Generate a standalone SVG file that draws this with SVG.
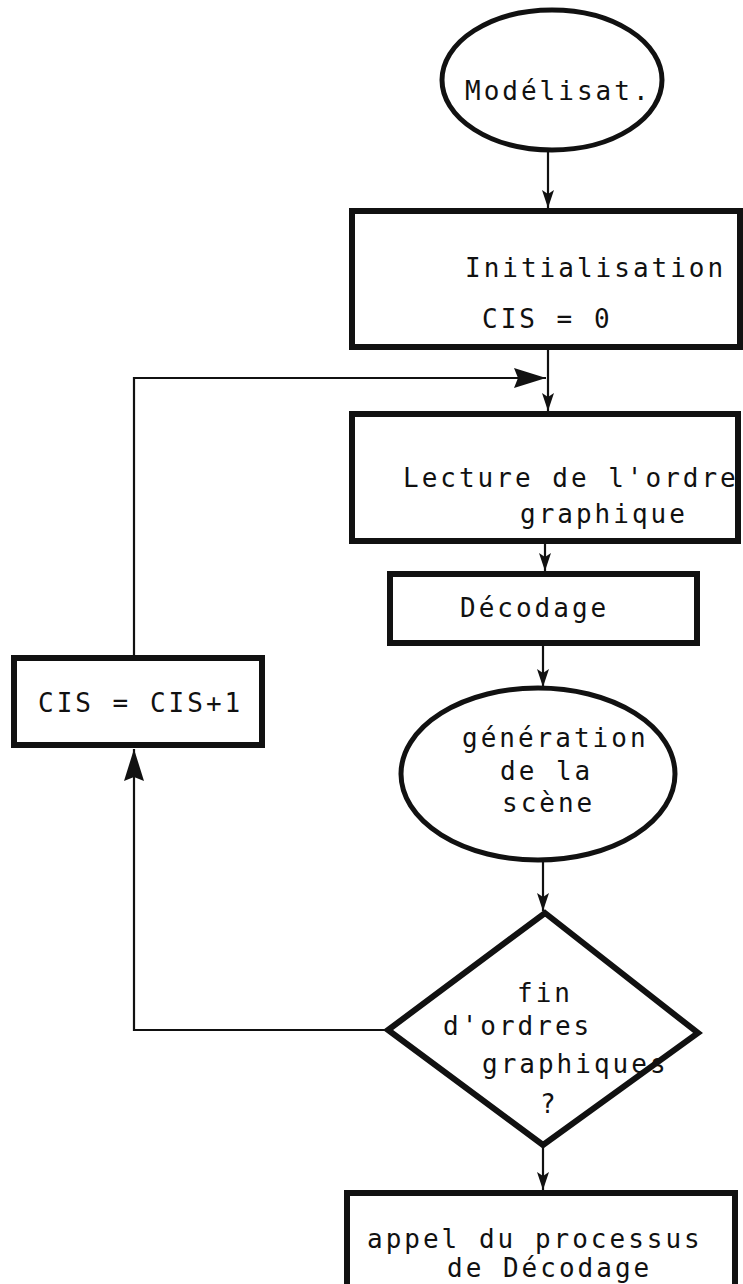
<svg xmlns="http://www.w3.org/2000/svg" width="743" height="1284" viewBox="0 0 743 1284">
<style>
.box{fill:#fff;stroke:#111;stroke-width:6;stroke-linejoin:miter}
.oval{fill:#fff;stroke:#111;stroke-width:5}
.con{fill:none;stroke:#111;stroke-width:2.2}
.t{font-family:"DejaVu Sans Mono","Liberation Mono",monospace;font-size:26px;letter-spacing:3px;fill:#111}
</style>
<defs>
<marker id="a" markerUnits="userSpaceOnUse" markerWidth="20" markerHeight="14" refX="18" refY="6" orient="auto">
<path d="M0,0 L18,6 L0,12 L4,6 Z" fill="#111"/>
</marker>
<marker id="big" markerUnits="userSpaceOnUse" markerWidth="34" markerHeight="22" refX="32" refY="10" orient="auto">
<path d="M0,0 L32,10 L0,20 L4,10 Z" fill="#111"/>
</marker>
</defs>
<g id="connectors">
<path class="con" d="M548,150 V208" marker-end="url(#a)"/>
<path class="con" d="M548,347 V411" marker-end="url(#a)"/>
<path class="con" d="M545,541 V571" marker-end="url(#a)"/>
<path class="con" d="M543,643 V687" marker-end="url(#a)"/>
<path class="con" d="M543,860 V911" marker-end="url(#a)"/>
<path class="con" d="M543,1146 V1190" marker-end="url(#a)"/>
<path class="con" d="M388,1030 H134 V749" marker-end="url(#big)"/>
<path class="con" d="M134,657 V378 H546" marker-end="url(#big)"/>
</g>
<g id="modelisation">
<ellipse class="oval" cx="552" cy="80" rx="110" ry="70"/>
<text class="t" x="465" y="100">Modélisat.</text>
</g>
<g id="initialisation">
<rect class="box" x="352" y="211" width="388" height="136"/>
<text class="t" x="465" y="277">Initialisation</text>
<text class="t" x="482" y="328">CIS = 0</text>
</g>
<g id="lecture">
<rect class="box" x="352" y="414" width="386" height="127"/>
<text class="t" x="403" y="487">Lecture de l'ordre</text>
<text class="t" x="520" y="523">graphique</text>
</g>
<g id="decodage">
<rect class="box" x="390" y="574" width="307" height="69"/>
<text class="t" x="460" y="617">Décodage</text>
</g>
<g id="increment">
<rect class="box" x="14" y="658" width="248" height="87"/>
<text class="t" x="38" y="712">CIS = CIS+1</text>
</g>
<g id="generation">
<ellipse class="oval" cx="538" cy="774" rx="137" ry="86"/>
<text class="t" x="462" y="747">génération</text>
<text class="t" x="500" y="780">de la</text>
<text class="t" x="502" y="812">scène</text>
</g>
<g id="fin">
<polygon class="box" points="545,913 698,1033 543,1145 388,1030"/>
<text class="t" x="517" y="1002">fin</text>
<text class="t" x="443" y="1035">d'ordres</text>
<text class="t" x="482" y="1073">graphiques</text>
<text class="t" x="540" y="1113">?</text>
</g>
<g id="appel">
<rect class="box" x="347" y="1193" width="388" height="110"/>
<text class="t" x="367" y="1248">appel du processus</text>
<text class="t" x="447" y="1277">de Décodage</text>
</g>
</svg>
